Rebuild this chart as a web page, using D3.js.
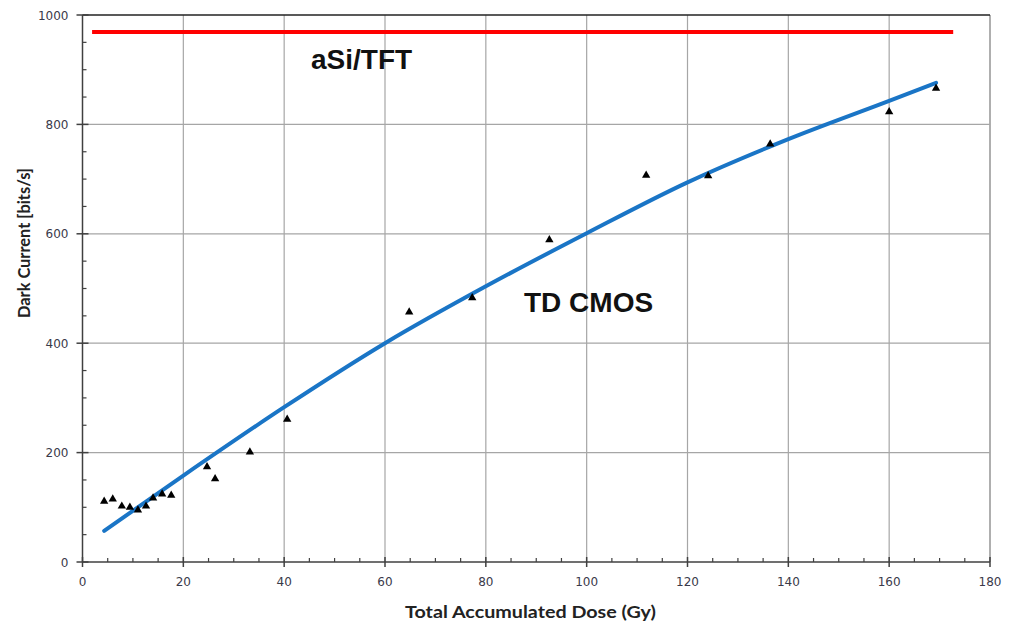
<!DOCTYPE html>
<html lang="en">
<head>
    <meta charset="UTF-8">
    <title>Dark current vs dose</title>
    <script src="https://d3js.org/d3.v7.min.js"></script>
    <style>
        body { margin: 0; background: #fff; }
    </style>
</head>
<body>
<script>
    // measured points (triangles)
    doseX = [4.3, 6.0, 7.8, 9.4, 11.0, 12.6, 14.0, 15.8, 17.6, 24.7, 26.3, 33.2, 40.6, 64.8, 77.3, 92.6, 111.8, 124.1, 136.4, 160.0, 169.3]
    darkY = [111, 115, 102, 100, 95, 102, 117, 124, 122, 174, 152, 201, 261, 457, 483, 589, 707, 706, 764, 823, 866]

    // fitted trend line
    fitX = [4.3, 20, 40, 60, 80, 100, 120, 140, 160, 169.3]
    fitY = [57, 158, 283, 400, 504, 601, 694, 773, 843, 876]

    // aSi/TFT reference level
    refX = [1.9, 172.7]
    refY = [969, 969]

    xTicks = [0, 20, 40, 60, 80, 100, 120, 140, 160, 180]
    yTicks = [0, 200, 400, 600, 800, 1000]

    //chart dimensions
    w = 1013
    h = 623
    x0 = 82.5, x1 = 990
    y0 = 562, y1 = 15

    svg = d3.select("body")
        .append("svg")
        .attr("width", w)
        .attr("height", h)

    x = d3.scaleLinear().domain([0, 180]).range([x0, x1])
    y = d3.scaleLinear().domain([0, 1000]).range([y0, y1])

    //grid
    svg.append("g").selectAll("line.vgrid")
        .data(xTicks.slice(1))
        .enter().append("line")
        .attr("x1", d => x(d)).attr("x2", d => x(d))
        .attr("y1", y0).attr("y2", y1)
        .attr("stroke", d => d == 180 ? "#7a7a7a" : "#a6a6a6")
        .attr("stroke-width", 1.2)

    svg.append("g").selectAll("line.hgrid")
        .data(yTicks.slice(1))
        .enter().append("line")
        .attr("x1", x0).attr("x2", x1)
        .attr("y1", d => y(d)).attr("y2", d => y(d))
        .attr("stroke", d => d == 1000 ? "#222" : "#a6a6a6")
        .attr("stroke-width", d => d == 1000 ? 1.5 : 1.2)

    //axes: major ticks cross the line, minor ticks sit inside
    xAxis = svg.append("g").attr("transform", "translate(0," + y0 + ")")
    xAxis.append("line").attr("x1", x0).attr("x2", x1).attr("stroke", "#404040").attr("stroke-width", 1.5)
    xAxis.selectAll("line.minor")
        .data(d3.range(5, 180, 5).filter(v => v % 20 != 0))
        .enter().append("line")
        .attr("x1", d => x(d)).attr("x2", d => x(d))
        .attr("y1", -4).attr("y2", 0)
        .attr("stroke", "#404040").attr("stroke-width", 1.2)
    xAxis.selectAll("line.major")
        .data(xTicks)
        .enter().append("line")
        .attr("x1", d => x(d)).attr("x2", d => x(d))
        .attr("y1", -5).attr("y2", 5)
        .attr("stroke", "#404040").attr("stroke-width", 1.5)
    xAxis.selectAll("text")
        .data(xTicks)
        .enter().append("text")
        .attr("x", d => x(d))
        .attr("y", 24)
        .attr("text-anchor", "middle")
        .attr("font-family", "DejaVu Sans, Verdana, sans-serif")
        .attr("font-size", 12)
        .attr("fill", "#3a3a4a")
        .text(d => d)

    yAxis = svg.append("g").attr("transform", "translate(" + x0 + ",0)")
    yAxis.append("line").attr("y1", y0).attr("y2", y1).attr("stroke", "#404040").attr("stroke-width", 1.5)
    yAxis.selectAll("line.minor")
        .data(d3.range(50, 1000, 50).filter(v => v % 200 != 0))
        .enter().append("line")
        .attr("y1", d => y(d)).attr("y2", d => y(d))
        .attr("x1", 0).attr("x2", 4)
        .attr("stroke", "#404040").attr("stroke-width", 1.2)
    yAxis.selectAll("line.major")
        .data(yTicks)
        .enter().append("line")
        .attr("y1", d => y(d)).attr("y2", d => y(d))
        .attr("x1", -6).attr("x2", 6)
        .attr("stroke", "#404040").attr("stroke-width", 1.5)
    yAxis.selectAll("text")
        .data(yTicks)
        .enter().append("text")
        .attr("x", -14)
        .attr("y", d => y(d) + 4.5)
        .attr("text-anchor", "end")
        .attr("font-family", "DejaVu Sans, Verdana, sans-serif")
        .attr("font-size", 12)
        .attr("fill", "#3a3a4a")
        .text(d => d)

    //axis titles
    svg.append("text")
        .attr("x", 530.5).attr("y", 618)
        .attr("text-anchor", "middle")
        .attr("font-family", "Lato, sans-serif")
        .attr("font-weight", "bold")
        .attr("font-size", 17)
        .attr("fill", "#222")
        .attr("textLength", 251)
        .attr("lengthAdjust", "spacingAndGlyphs")
        .text("Total Accumulated Dose (Gy)")

    svg.append("text")
        .attr("transform", "translate(30,243) rotate(-90)")
        .attr("text-anchor", "middle")
        .attr("font-family", "Lato, sans-serif")
        .attr("font-weight", "bold")
        .attr("font-size", 17)
        .attr("fill", "#222")
        .attr("textLength", 150)
        .attr("lengthAdjust", "spacingAndGlyphs")
        .text("Dark Current [bits/s]")

    //reference line
    svg.append("path")
        .datum(refX.map((v, i) => [v, refY[i]]))
        .attr("d", d3.line().x(d => x(d[0])).y(d => y(d[1])))
        .attr("stroke", "#ff0000")
        .attr("stroke-width", 4)
        .attr("fill", "none")

    //trend line
    svg.append("path")
        .datum(fitX.map((v, i) => [v, fitY[i]]))
        .attr("d", d3.line().x(d => x(d[0])).y(d => y(d[1])).curve(d3.curveMonotoneX))
        .attr("stroke", "#1a75c6")
        .attr("stroke-width", 4)
        .attr("stroke-linecap", "round")
        .attr("fill", "none")

    //points
    svg.append("g").selectAll("path.pt")
        .data(doseX.map((v, i) => [v, darkY[i]]))
        .enter().append("path")
        .attr("d", d3.symbol().type(d3.symbolTriangle).size(30))
        .attr("transform", d => "translate(" + x(d[0]) + "," + y(d[1]) + ")")
        .attr("fill", "#000")

    //labels
    svg.append("text")
        .attr("x", 311).attr("y", 69)
        .attr("font-family", "Liberation Sans, Arial, sans-serif")
        .attr("font-weight", "bold")
        .attr("font-size", 28)
        .attr("fill", "#111")
        .text("aSi/TFT")

    svg.append("text")
        .attr("x", 524).attr("y", 312)
        .attr("font-family", "Liberation Sans, Arial, sans-serif")
        .attr("font-weight", "bold")
        .attr("font-size", 28)
        .attr("fill", "#111")
        .text("TD CMOS")
</script>
</body>
</html>
